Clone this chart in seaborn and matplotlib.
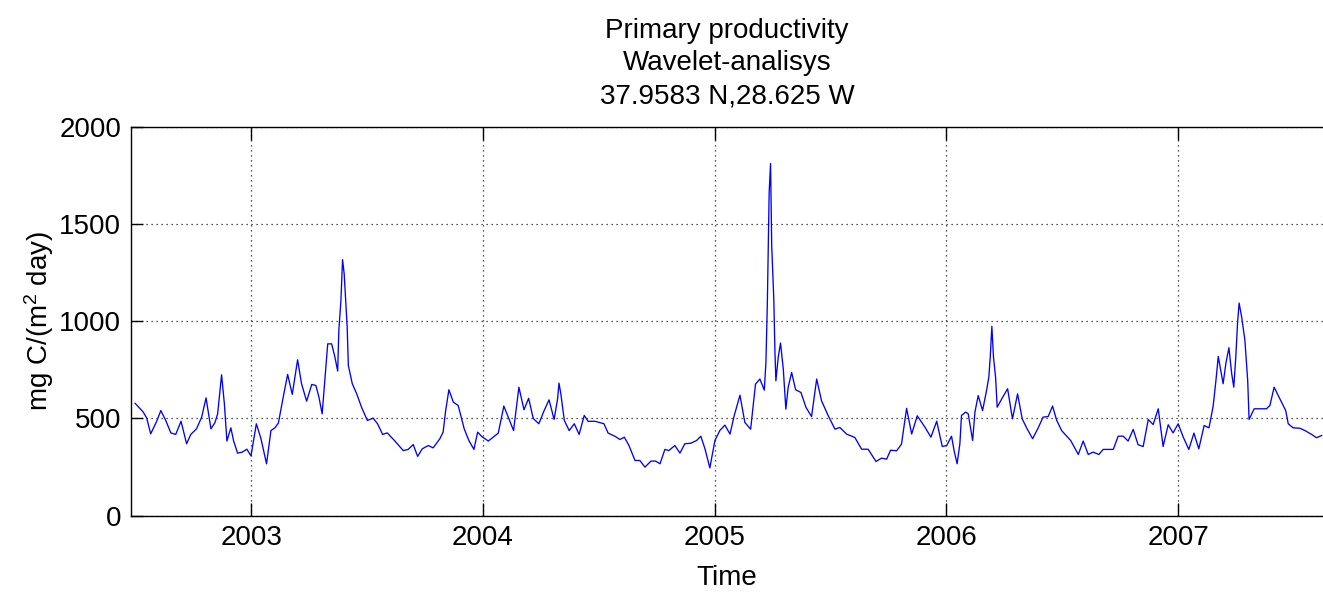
import matplotlib
matplotlib.use("Agg")
import matplotlib.pyplot as plt
import seaborn as sns
import pandas as pd

# Time (decimal years) and primary productivity, mg C/(m^2 day)
years = [
    2002.498, 2002.534, 2002.549, 2002.566, 2002.592, 2002.610, 2002.631, 2002.653,
    2002.674, 2002.697, 2002.721, 2002.739, 2002.764, 2002.786, 2002.805, 2002.826,
    2002.843, 2002.855, 2002.872, 2002.884, 2002.895, 2002.912, 2002.924, 2002.941,
    2002.961, 2002.981, 2002.999, 2003.022, 2003.042, 2003.066, 2003.085, 2003.102,
    2003.117, 2003.138, 2003.157, 2003.177, 2003.200, 2003.217, 2003.239, 2003.261,
    2003.279, 2003.292, 2003.306, 2003.318, 2003.330, 2003.347, 2003.361, 2003.373,
    2003.378, 2003.387, 2003.394, 2003.401, 2003.407, 2003.414, 2003.419, 2003.436,
    2003.455, 2003.476, 2003.501, 2003.526, 2003.545, 2003.567, 2003.587, 2003.620,
    2003.656, 2003.677, 2003.699, 2003.718, 2003.738, 2003.764, 2003.785, 2003.814,
    2003.828, 2003.839, 2003.853, 2003.872, 2003.893, 2003.919, 2003.939, 2003.961,
    2003.977, 2003.994, 2004.023, 2004.044, 2004.066, 2004.090, 2004.109, 2004.132,
    2004.155, 2004.177, 2004.197, 2004.217, 2004.241, 2004.264, 2004.285, 2004.307,
    2004.322, 2004.328, 2004.336, 2004.351, 2004.372, 2004.394, 2004.415, 2004.437,
    2004.454, 2004.483, 2004.522, 2004.540, 2004.569, 2004.591, 2004.610, 2004.630,
    2004.656, 2004.677, 2004.699, 2004.725, 2004.745, 2004.764, 2004.785, 2004.802,
    2004.828, 2004.850, 2004.871, 2004.897, 2004.922, 2004.940, 2004.958, 2004.979,
    2005.001, 2005.022, 2005.044, 2005.066, 2005.084, 2005.109, 2005.130, 2005.155,
    2005.176, 2005.195, 2005.214, 2005.221, 2005.227, 2005.231, 2005.235, 2005.241,
    2005.246, 2005.255, 2005.260, 2005.264, 2005.274, 2005.284, 2005.296, 2005.307,
    2005.317, 2005.332, 2005.349, 2005.372, 2005.394, 2005.418, 2005.440, 2005.461,
    2005.490, 2005.519, 2005.540, 2005.569, 2005.605, 2005.634, 2005.662, 2005.696,
    2005.720, 2005.742, 2005.759, 2005.785, 2005.806, 2005.828, 2005.850, 2005.874,
    2005.907, 2005.933, 2005.958, 2005.982, 2006.001, 2006.022, 2006.033, 2006.046,
    2006.058, 2006.065, 2006.083, 2006.094, 2006.113, 2006.123, 2006.137, 2006.156,
    2006.173, 2006.183, 2006.189, 2006.196, 2006.203, 2006.212, 2006.219, 2006.241,
    2006.264, 2006.285, 2006.307, 2006.327, 2006.348, 2006.372, 2006.396, 2006.417,
    2006.439, 2006.458, 2006.475, 2006.497, 2006.536, 2006.569, 2006.590, 2006.612,
    2006.633, 2006.658, 2006.676, 2006.720, 2006.741, 2006.763, 2006.784, 2006.806,
    2006.827, 2006.849, 2006.871, 2006.892, 2006.914, 2006.935, 2006.957, 2006.978,
    2007.000, 2007.022, 2007.046, 2007.068, 2007.089, 2007.112, 2007.133, 2007.151,
    2007.163, 2007.173, 2007.184, 2007.194, 2007.206, 2007.219, 2007.231, 2007.240,
    2007.249, 2007.256, 2007.263, 2007.274, 2007.288, 2007.300, 2007.306, 2007.328,
    2007.360, 2007.381, 2007.396, 2007.414, 2007.439, 2007.464, 2007.475, 2007.496,
    2007.525, 2007.547, 2007.576, 2007.597, 2007.620,
]

productivity = [
    578, 532, 501, 420, 485, 540, 489, 425,
    417, 485, 369, 417, 446, 506, 605, 446,
    477, 523, 724, 575, 383, 451, 383, 321,
    326, 341, 307, 472, 395, 266, 437, 451,
    475, 609, 726, 623, 801, 678, 588, 674,
    669, 609, 523, 700, 883, 883, 815, 743,
    952, 1106, 1316, 1244, 1115, 969, 772, 678,
    626, 557, 489, 501, 472, 417, 425, 383,
    334, 340, 365, 304, 343, 360, 348, 395,
    429, 540, 647, 583, 566, 446, 386, 340,
    429, 407, 383, 403, 424, 563, 506, 437,
    660, 544, 603, 499, 472, 540, 595, 494,
    600, 681, 626, 489, 437, 472, 417, 515,
    484, 485, 472, 424, 408, 391, 403, 360,
    283, 283, 249, 280, 280, 266, 340, 334,
    360, 321, 369, 372, 386, 408, 343, 245,
    386, 437, 465, 419, 513, 619, 479, 444,
    676, 702, 645, 787, 1082, 1365, 1662, 1811,
    1388, 1113, 839, 693, 813, 887, 753, 547,
    659, 736, 647, 633, 556, 509, 702, 590,
    513, 444, 453, 419, 401, 341, 341, 278,
    295, 290, 336, 333, 367, 551, 419, 513,
    455, 403, 485, 355, 360, 408, 334, 266,
    369, 515, 532, 523, 386, 532, 617, 540,
    643, 712, 815, 973, 815, 712, 557, 605,
    652, 497, 626, 497, 446, 395, 451, 506,
    509, 563, 492, 437, 386, 314, 383, 314,
    326, 314, 340, 340, 408, 408, 383, 443,
    364, 355, 494, 468, 549, 355, 467, 425,
    472, 403, 340, 424, 343, 463, 451, 563,
    695, 818, 746, 678, 784, 863, 729, 660,
    823, 986, 1093, 1021, 901, 695, 494, 549,
    549, 549, 566, 660, 600, 540, 472, 451,
    449, 437, 417, 400, 412,
]

year_ticks = [2003, 2004, 2005, 2006, 2007]
value_ticks = [0, 500, 1000, 1500, 2000]

title_lines = ["Primary productivity", "Wavelet-analisys", "37.9583 N,28.625 W"]

sns.set_theme(style="white")
plt.rcParams["font.family"] = ["Liberation Sans", "DejaVu Sans"]
plt.rcParams["mathtext.fontset"] = "custom"
plt.rcParams["mathtext.rm"] = "Liberation Sans"
plt.rcParams["mathtext.it"] = "Liberation Sans"
plt.rcParams["text.color"] = "black"
plt.rcParams["axes.labelcolor"] = "black"
plt.rcParams["axes.titlecolor"] = "black"

df = pd.DataFrame({"Time": years, "PP": productivity})

fig = plt.figure(figsize=(13.23, 5.92), dpi=100)
ax = fig.add_axes([0.099, 0.1292, 0.901, 0.6568])

sns.lineplot(data=df, x="Time", y="PP", ax=ax, color="#0000ff",
             linewidth=0.95, sort=False, estimator=None)

ax.set_xlim(2002.481, 2007.625)
ax.set_ylim(0, 2000)
ax.set_xticks(year_ticks)
ax.set_xticklabels([str(y) for y in year_ticks])
ax.set_yticks(value_ticks)

ax.grid(True, color="#222222", linestyle=(0, (1, 3)), linewidth=0.9)
ax.set_axisbelow(True)

for side in ("left", "bottom", "top"):
    ax.spines[side].set_visible(True)
    ax.spines[side].set_color("black")
    ax.spines[side].set_linewidth(1.0)
ax.spines["right"].set_visible(False)

ax.tick_params(axis="x", which="major", direction="in", length=9.5, width=1.0,
               top=True, bottom=True, labelsize=20, pad=7, colors="black")
ax.tick_params(axis="y", which="major", direction="in", length=8.5, width=1.0,
               left=True, right=False, labelsize=20, pad=7, colors="black")

ax.set_xlabel("Time", fontsize=20, labelpad=10)
ax.set_ylabel("mg C/(m$^2$ day)", fontsize=20, labelpad=2)
ax.set_title("\n".join(title_lines), fontsize=20, pad=17, linespacing=1.33)

fig.savefig("out.png", dpi=100, facecolor="white")
